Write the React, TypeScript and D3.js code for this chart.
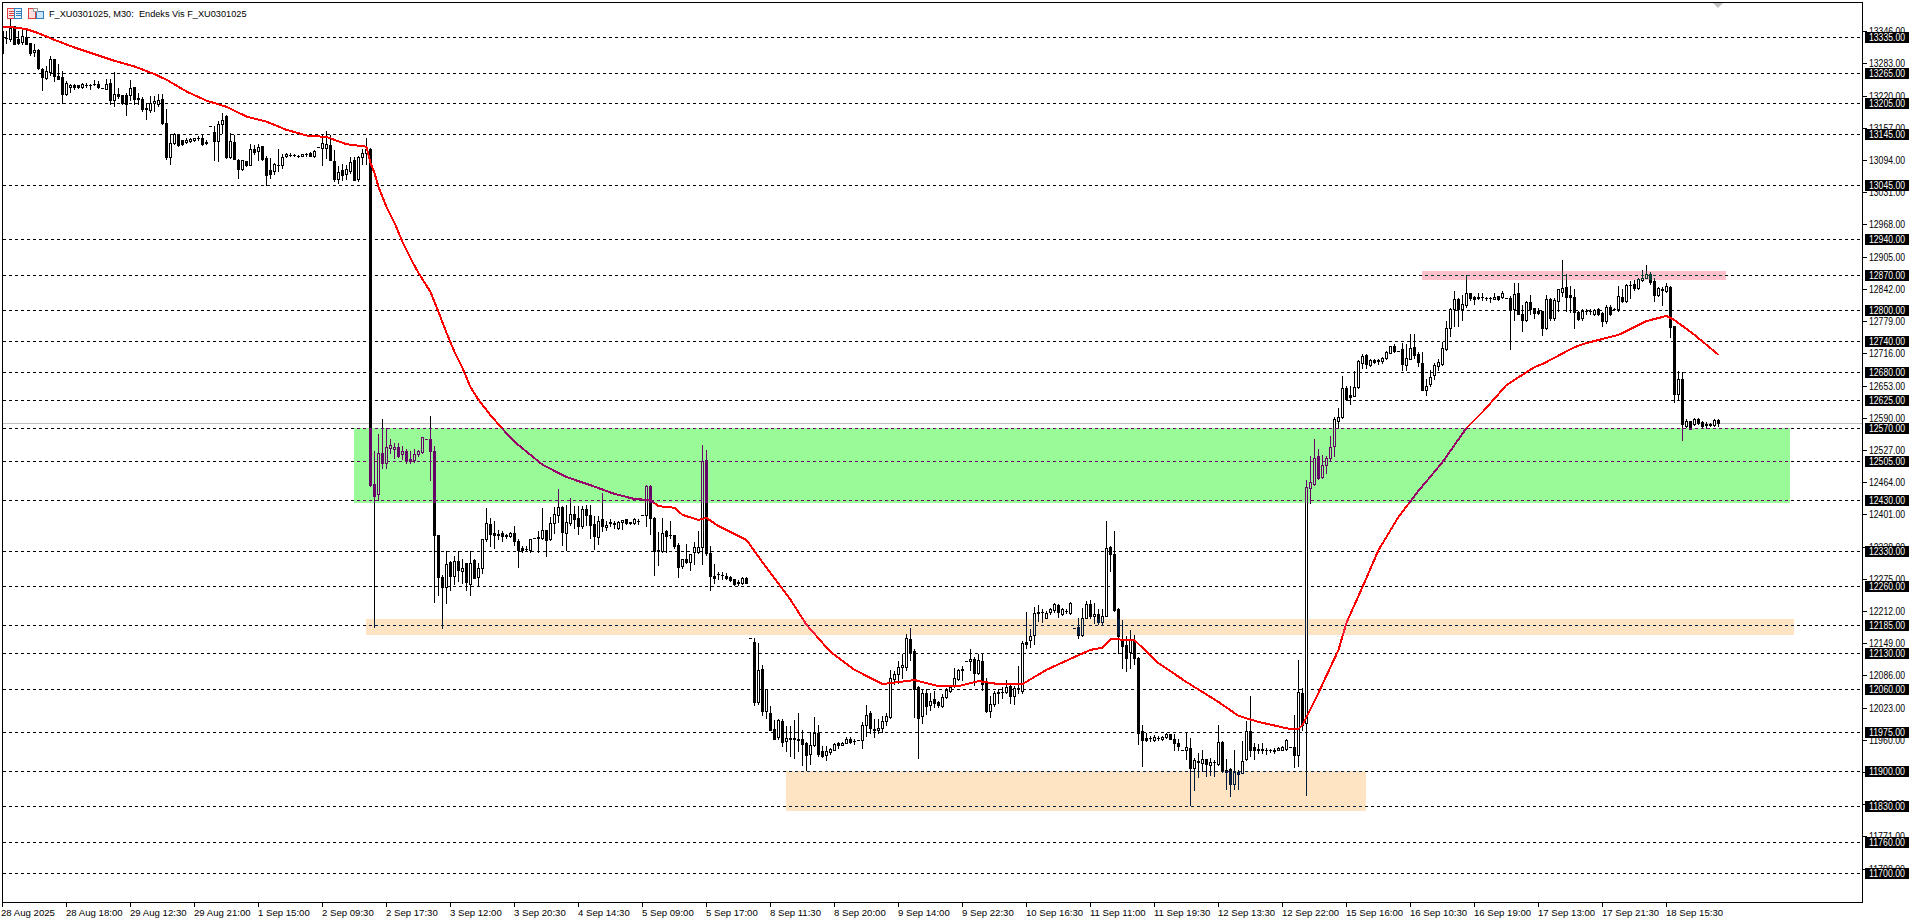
import * as d3 from 'd3';
import React from 'react';

type Bar = [number, number, number, number]; // open, high, low, close

const bars28to29Aug: Bar[] = [
  [13346,13353,13304,13304],[13333,13346,13323,13333],[13331,13370,13326,13353],[13356,13357,13320,13320],[13330,13346,13320,13323],[13325,13349,13320,13336],[13335,13351,13320,13320],[13322,13322,13300,13304],[13305,13320,13297,13310],[13310,13311,13272,13274],
  [13272,13274,13231,13257],[13254,13278,13252,13268],[13267,13298,13261,13291],[13291,13292,13248,13258],[13258,13281,13252,13252],[13257,13268,13205,13224],[13224,13248,13222,13245],[13237,13242,13227,13241],[13240,13242,13233,13237],[13240,13241,13235,13237],
  [13237,13244,13235,13242],[13241,13245,13237,13241],[13241,13242,13233,13241],[13242,13250,13240,13242],[13242,13248,13235,13237],[13235,13235,13235,13235],[13233,13252,13232,13242],[13244,13253,13203,13211],[13211,13266,13199,13224],[13224,13235,13216,13220],
  [13222,13222,13203,13205],[13222,13225,13183,13203],[13222,13250,13212,13235],[13236,13237,13203,13214],[13215,13225,13203,13214],[13214,13218,13190,13193],[13195,13206,13175,13193],[13192,13219,13188,13205],[13205,13220,13190,13209],[13203,13224,13199,13212],
];

const bars29Aug1Sep: Bar[] = [
  [13214,13224,13165,13167],[13167,13193,13096,13100],[13100,13144,13086,13128],[13128,13146,13126,13144],[13144,13144,13122,13124],[13133,13134,13124,13126],[13129,13137,13128,13134],[13132,13138,13130,13135],[13133,13138,13131,13137],[13137,13141,13134,13137],
  [13137,13142,13124,13126],[13129,13134,13125,13128],[13160,13160,13160,13160],[13148,13160,13094,13131],[13131,13170,13092,13165],[13165,13185,13147,13173],[13180,13183,13098,13100],[13100,13146,13098,13131],[13130,13142,13096,13096],[13095,13096,13059,13077],
  [13077,13094,13075,13094],[13093,13093,13083,13085],[13085,13126,13085,13115],[13115,13124,13105,13109],[13111,13126,13095,13120],[13121,13122,13095,13096],[13098,13102,13046,13064],[13075,13098,13059,13066],[13072,13089,13066,13087],[13085,13116,13072,13085],
  [13085,13105,13079,13100],[13102,13107,13100,13105],[13103,13107,13102,13103],[13103,13105,13102,13103],[13102,13104,13100,13102],[13102,13105,13102,13105],[13105,13107,13102,13105],[13107,13109,13102,13102],[13102,13113,13100,13111],[13120,13120,13120,13120],
  [13118,13144,13084,13128],[13118,13150,13098,13126],[13124,13142,13095,13095],[13093,13113,13053,13056],[13056,13083,13049,13071],[13074,13086,13055,13065],[13066,13084,13056,13076],[13072,13099,13069,13091],[13095,13099,13055,13055],[13056,13101,13053,13099],
  [13099,13115,13086,13108],[13108,13138,13086,13116],
];

const bars2to3Sep: Bar[] = [
  [13116,13118,12457,12458],[12461,12525,12181,12437],[12440,12559,12429,12521],[12521,12587,12492,12502],[12502,12570,12492,12533],[12531,12549,12521,12536],[12528,12541,12512,12533],[12533,12540,12513,12516],[12519,12534,12510,12525],[12525,12528,12502,12508],
  [12510,12525,12502,12506],[12507,12528,12503,12520],[12519,12527,12516,12524],[12523,12553,12521,12553],[12549,12549,12549,12549],[12549,12594,12468,12525],[12525,12534,12229,12360],[12360,12360,12244,12279],[12279,12283,12179,12259],[12259,12329,12228,12303],
  [12307,12309,12253,12280],[12280,12319,12264,12310],[12309,12329,12270,12292],[12291,12314,12266,12296],[12306,12306,12253,12268],[12264,12329,12243,12306],[12311,12313,12277,12277],[12279,12306,12261,12296],[12296,12353,12287,12353],[12352,12414,12349,12384],
  [12383,12394,12339,12362],[12365,12388,12336,12361],[12363,12371,12353,12360],[12364,12368,12349,12358],[12361,12362,12355,12358],[12358,12366,12357,12365],[12365,12379,12342,12349],[12349,12353,12298,12332],[12336,12340,12327,12332],[12334,12339,12331,12333],
  [12332,12353,12327,12353],[12355,12355,12355,12355],[12355,12368,12327,12356],[12355,12414,12353,12371],[12371,12371,12319,12351],[12352,12396,12351,12384],[12384,12416,12365,12401],[12399,12450,12386,12416],[12416,12417,12342,12366],[12365,12420,12332,12386],
];

const bars4to5Sep: Bar[] = [
  [12384,12433,12381,12402],[12402,12417,12375,12391],[12394,12417,12362,12378],[12378,12417,12375,12412],[12412,12420,12381,12399],[12400,12420,12355,12381],[12383,12397,12334,12358],[12357,12397,12344,12388],[12392,12443,12368,12378],[12377,12388,12370,12380],
  [12386,12391,12379,12385],[12384,12388,12375,12382],[12375,12388,12373,12386],[12386,12390,12373,12390],[12391,12392,12382,12384],[12386,12387,12383,12384],[12384,12394,12383,12392],[12388,12392,12383,12388],[12400,12400,12400,12400],[12400,12459,12379,12457],
  [12457,12459,12362,12394],[12394,12396,12283,12329],[12332,12366,12301,12329],[12329,12394,12327,12365],[12369,12371,12327,12358],[12360,12388,12355,12360],[12360,12360,12336,12340],[12342,12345,12278,12298],[12300,12314,12296,12313],[12313,12344,12305,12307],
  [12307,12324,12293,12324],[12327,12346,12303,12338],[12327,12368,12326,12338],[12338,12536,12303,12505],[12508,12527,12322,12326],[12326,12340,12253,12280],[12281,12303,12266,12277],[12284,12288,12274,12284],[12283,12288,12275,12283],[12281,12287,12274,12276],
  [12278,12280,12271,12272],[12274,12275,12262,12264],[12268,12272,12262,12267],[12266,12278,12265,12277],[12277,12279,12266,12266],
];

const bars8to9Sep: Bar[] = [
  [12160,12160,12160,12160],[12151,12160,12029,12034],[12034,12150,12031,12096],[12098,12107,12008,12016],[12016,12060,12002,12060],[12013,12027,11979,11979],[11982,11999,11962,11962],[11966,12000,11961,11998],[11997,12001,11948,11956],[11958,11988,11938,11964],
  [11963,11988,11929,11961],[11963,11999,11925,11961],[11962,12013,11938,11959],[11962,11979,11911,11952],[11953,11956,11902,11931],[11933,11975,11912,11949],[11949,12005,11948,11974],[11973,11989,11928,11933],[11938,11948,11927,11928],[11931,11948,11920,11938],
  [11937,11944,11933,11942],[11941,11954,11940,11952],[11953,11956,11944,11950],[11950,11956,11949,11954],[11954,11966,11953,11962],[11961,11966,11953,11956],[11957,11961,11952,11957],[11959,11959,11959,11959],[11959,11995,11944,11990],[11990,12029,11967,12009],
  [12012,12016,11974,11984],[11982,12000,11965,11980],[11979,12000,11974,11984],[11983,12006,11975,11997],[11997,12013,11990,12006],[12005,12096,12002,12081],[12079,12094,12070,12088],[12088,12114,12072,12103],[12103,12127,12081,12106],[12102,12168,12096,12160],
  [12158,12178,12116,12132],[12134,12137,12005,12060],[12064,12066,11924,12003],[12006,12060,11993,12052],[12052,12060,12010,12026],[12029,12051,12019,12036],[12040,12055,12025,12032],[12035,12036,12025,12029],[12026,12049,12025,12044],[12044,12062,12042,12057],
  [12055,12066,12053,12064],[12066,12100,12064,12081],[12079,12098,12077,12096],[12096,12104,12078,12098],[12115,12115,12115,12115],[12115,12137,12096,12119],[12119,12122,12068,12090],[12090,12127,12088,12117],[12115,12127,12057,12070],[12072,12081,12014,12016],
  [12016,12046,12004,12030],[12030,12055,12027,12052],[12052,12059,12032,12053],[12053,12064,12042,12053],[12053,12078,12051,12064],[12066,12072,12032,12046],[12046,12066,12031,12062],[12062,12104,12052,12062],[12055,12153,12052,12150],
];

const bars10to11Sep: Bar[] = [
  [12152,12210,12140,12148],[12155,12177,12142,12164],[12165,12220,12147,12208],[12210,12223,12192,12209],[12211,12215,12190,12211],[12199,12212,12198,12208],[12210,12218,12207,12215],[12214,12228,12210,12225],[12223,12225,12201,12210],[12207,12218,12205,12216],
  [12212,12216,12208,12212],[12208,12229,12207,12228],[12179,12179,12179,12179],[12180,12199,12160,12165],[12165,12218,12163,12199],[12199,12231,12199,12225],[12225,12234,12199,12203],[12202,12227,12188,12207],[12207,12216,12186,12190],[12190,12215,12186,12203],
  [12202,12389,12202,12336],[12338,12339,12290,12323],[12323,12368,12212,12214],[12215,12218,12129,12164],[12158,12195,12101,12143],[12145,12164,12094,12121],[12131,12174,12100,12156],[12156,12166,12109,12121],[12120,12122,11951,11974],[11977,11990,11909,11959],
  [11964,11974,11958,11960],[11963,11967,11958,11963],[11959,11969,11958,11966],[11963,11967,11959,11963],[11961,11967,11959,11965],[11966,11974,11964,11971],[11971,11971,11961,11962],[11962,11971,11941,11953],[11954,11961,11941,11948],[11941,11941,11941,11941],
  [11940,11974,11922,11946],[11944,11964,11832,11905],[11905,11925,11862,11920],[11918,11935,11888,11916],[11915,11940,11899,11923],[11922,11923,11889,11912],[11911,11925,11892,11916],[11916,11920,11889,11916],[11912,11990,11911,11956],[11956,11958,11897,11901],
  [11902,11922,11863,11897],[11903,11905,11850,11873],[11873,11941,11863,11897],[11897,11902,11863,11893],
];

const bars12to15Sep: Bar[] = [
  [11896,11957,11896,11918],[11922,11996,11920,11977],[11977,12045,11929,11941],[11946,11953,11923,11941],[11942,11951,11935,11940],[11942,11953,11935,11940],[11940,11944,11933,11940],[11940,11942,11937,11940],[11938,11944,11935,11941],[11941,11946,11940,11944],
  [11941,11948,11940,11946],[11942,11961,11941,11959],[11946,11946,11946,11946],[11946,12008,11907,11931],[11931,12117,11908,12054],[12052,12062,11979,11990],[11993,12469,11852,12454],[12453,12516,12424,12464],[12461,12549,12458,12512],[12516,12528,12471,12473],
  [12474,12518,12473,12498],[12498,12516,12481,12512],[12512,12555,12505,12533],[12534,12592,12516,12588],[12583,12609,12570,12592],[12592,12671,12590,12648],[12648,12652,12624,12627],[12634,12653,12616,12630],[12632,12681,12632,12650],[12650,12703,12648,12701],
  [12697,12714,12688,12710],[12713,12714,12688,12696],[12694,12704,12692,12703],[12703,12705,12698,12699],[12700,12704,12696,12703],[12701,12709,12697,12707],[12707,12720,12705,12718],[12717,12731,12716,12730],[12731,12735,12718,12720],[12720,12720,12720,12720],
];

const bars16to18Sep: Bar[] = [
  [12725,12736,12683,12696],[12694,12735,12683,12707],[12705,12754,12704,12727],[12729,12753,12707,12712],[12714,12718,12692,12699],[12697,12718,12644,12645],[12644,12665,12635,12653],[12655,12684,12653,12670],[12673,12697,12665,12694],[12691,12705,12683,12699],
  [12696,12738,12694,12727],[12725,12779,12722,12766],[12766,12805,12750,12803],[12802,12838,12769,12823],[12823,12825,12770,12802],[12802,12831,12782,12813],[12810,12870,12807,12834],[12833,12834,12820,12825],[12826,12829,12813,12823],[12826,12834,12823,12824],
  [12826,12834,12821,12826],[12825,12826,12821,12825],[12825,12826,12816,12825],[12823,12834,12823,12826],[12828,12828,12821,12823],[12826,12838,12825,12833],[12825,12825,12825,12825],[12825,12829,12725,12802],[12802,12854,12781,12832],[12834,12854,12792,12792],
  [12792,12811,12759,12782],[12782,12818,12779,12816],[12817,12831,12792,12802],[12805,12805,12785,12794],[12798,12805,12792,12795],[12798,12798,12751,12766],[12766,12831,12764,12823],[12823,12825,12782,12785],[12785,12825,12782,12820],[12818,12842,12798,12841],
  [12836,12899,12828,12844],[12846,12872,12798,12826],[12831,12847,12796,12826],[12826,12842,12765,12796],[12796,12798,12782,12783],[12785,12803,12782,12798],[12799,12802,12792,12798],[12798,12802,12792,12798],[12793,12803,12791,12800],[12802,12805,12790,12792],
  [12795,12796,12769,12780],[12780,12810,12776,12807],[12807,12810,12790,12792],[12802,12805,12800,12802],[12802,12847,12798,12828],[12826,12842,12817,12819],[12819,12851,12817,12849],[12850,12857,12825,12850],[12851,12860,12840,12844],[12844,12864,12841,12862],
  [12860,12879,12857,12864],[12864,12888,12864,12872],[12872,12875,12851,12855],[12857,12864,12818,12831],[12831,12846,12828,12844],[12840,12846,12810,12842],[12838,12854,12836,12847],[12846,12847,12748,12768],[12770,12770,12620,12637],[12637,12681,12626,12666],
  [12666,12680,12547,12577],[12573,12588,12572,12583],[12583,12583,12567,12568],[12577,12590,12575,12588],[12587,12589,12577,12579],[12581,12583,12570,12573],[12578,12581,12570,12575],[12578,12580,12574,12575],[12575,12587,12573,12585],[12585,12588,12573,12579],
];

// moving average, read at the bends of the line: [bar index, price]
const maPoints: [number, number][] = [
  [0,13356],[3,13354],[6,13351],[9,13343],[13,13330],[18,13315],[23,13302],[28,13289],[33,13278],[38,13263],[41,13252],[46,13229],[51,13211],[56,13199],[61,13180],[66,13170],[71,13154],[76,13143],[81,13140],[86,13126],[91,13121],
  [92,13089],[93,13070],[94,13042],[95,13023],[96,13003],[98,12972],[100,12935],[102,12903],[104,12874],[107,12837],[109,12798],[111,12757],[113,12720],[115,12688],[117,12651],[119,12626],[122,12596],[125,12569],[128,12544],[135,12499],[141,12475],[147,12459],[153,12442],[158,12432],[162,12430],[164,12418],[168,12415],[170,12401],[174,12391],[176,12395],[179,12379],[186,12352],[189,12319],
  [197,12235],[201,12186],[207,12133],[213,12098],[220,12070],[228,12078],[234,12066],[239,12066],[244,12076],[249,12070],[255,12070],[261,12098],[268,12123],[272,12137],[275,12141],[277,12158],[283,12156],[289,12111],[296,12074],[304,12035],[309,12008],[314,11996],[322,11982],[324,11982],[325,11990],
  [329,12053],[334,12137],[336,12190],[340,12260],[344,12332],[349,12397],[354,12448],[360,12504],[366,12571],[370,12602],[376,12655],[383,12690],[385,12696],[393,12729],[396,12737],[404,12753],[411,12780],[416,12790],[418,12782],[423,12753],[429,12714],
];

const priceTicks = [13346,13283,13220,13157,13094,13031,12968,12905,12842,12779,12716,12653,12590,12527,12464,12401,12338,12275,12212,12149,12086,12023,11960,11897,11834,11771,11708];
const levels = [13335,13265,13205,13145,13045,12940,12870,12800,12740,12680,12625,12570,12505,12430,12330,12260,12185,12130,12060,11975,11900,11830,11760,11700];
const timeLabels = ['28 Aug 2025','28 Aug 18:00','29 Aug 12:30','29 Aug 21:00','1 Sep 15:00','2 Sep 09:30','2 Sep 17:30','3 Sep 12:00','3 Sep 20:30','4 Sep 14:30','5 Sep 09:00','5 Sep 17:00','8 Sep 11:30','8 Sep 20:00','9 Sep 14:00','9 Sep 22:30','10 Sep 16:30','11 Sep 11:00','11 Sep 19:30','12 Sep 13:30','12 Sep 22:00','15 Sep 16:00','16 Sep 10:30','16 Sep 19:00','17 Sep 13:00','17 Sep 21:30','18 Sep 15:30'];

// zones: first bar, last bar, upper price, lower price, colour seen on white
const zones: [number, number, number, number, string][] = [
  [87.75, 446.75, 12570, 12425, '#98FB98'],
  [90.75, 447.75, 12197, 12166, '#FFE4C4'],
  [195.75, 340.75, 11900, 11822, '#FFE4C4'],
  [354.75, 430.75, 12878, 12860, '#FFC0CB'],
];

const bars = [...bars28to29Aug, ...bars29Aug1Sep, ...bars2to3Sep, ...bars4to5Sep, ...bars8to9Sep, ...bars10to11Sep, ...bars12to15Sep, ...bars16to18Sep];

const width = 1920;
const height = 923;
const plotLeft = 2;
const plotTop = 2;
const plotRight = 1862;
const plotBottom = 902;
const font = '"Liberation Sans", sans-serif';

// one bar every 4px, 1px wick in the middle of a 3px body
const x = d3.scaleLinear().domain([0, 100]).range([2.5, 402.5]);
const y = d3.scaleLinear().domain([13335, 11700]).range([37.3, 873.3]);
const py = (v: number) => Math.round(y(v) - 0.5) + 0.5;

// the terminal draws zones by inverting, so what was black shows up dark purple on green
const invert = (c: string) => {
  const rgb = d3.rgb(c);
  return d3.rgb(255 - rgb.r, 255 - rgb.g, 255 - rgb.b).formatHex();
};

const maLine = d3
  .line<[number, number]>()
  .x((d) => x(d[0]))
  .y((d) => y(d[1]));

const Candle = ({ bar, i }: { bar: Bar; i: number }) => {
  const [open, high, low, close] = bar;
  const cx = x(i);
  const top = py(Math.max(open, close));
  const bottom = py(Math.min(open, close));
  const up = close > open;
  return (
    <g>
      <line x1={cx} x2={cx} y1={py(high) - 0.5} y2={py(low) + 0.5} stroke="#000" />
      {top === bottom ? (
        <line x1={cx - 1.5} x2={cx + 1.5} y1={top} y2={top} stroke="#000" />
      ) : (
        <rect x={cx - 1} y={top} width={2} height={bottom - top} fill={up ? '#fff' : '#000'} stroke="#000" />
      )}
    </g>
  );
};

const PriceText = ({ v, fill }: { v: number; fill: string }) => (
  <text x={1869} y={y(v) + 3.5} fontSize={10} fill={fill} textLength={36} lengthAdjust="spacingAndGlyphs">
    {d3.format('.2f')(v)}
  </text>
);

const App = () => {
  const last = bars[bars.length - 1];
  return (
    <svg width={width} height={height} style={{ position: 'absolute', left: 0, top: 0, display: 'block' }} fontFamily={font}>
      <rect width={width} height={height} fill="#fff" />
      <defs>
        <clipPath id="plot">
          <rect x={plotLeft + 1} y={plotTop + 1} width={plotRight - plotLeft - 1} height={plotBottom - plotTop - 1} />
        </clipPath>
      </defs>

      <g clipPath="url(#plot)" shapeRendering="crispEdges">
        {/* the group is its own blend layer, so it needs its own white under the zones */}
        <rect width={width} height={height} fill="#fff" />
        {levels.map((v) => (
          <line key={v} x1={plotLeft + 1} x2={plotRight} y1={py(v)} y2={py(v)} stroke="#000" strokeDasharray="3 3" />
        ))}
        <line x1={plotLeft} x2={plotRight} y1={py(last[3])} y2={py(last[3])} stroke="#C0C0C0" />
        {bars.map((b, i) => (
          <Candle key={i} bar={b} i={i} />
        ))}
        <path d={maLine(maPoints) ?? ''} fill="none" stroke="#FF0000" strokeWidth={2} />
        {zones.map(([a, b, upper, lower, color]) => (
          <rect
            key={a}
            x={x(a)}
            y={y(upper)}
            width={x(b) - x(a)}
            height={y(lower) - y(upper)}
            fill={invert(color)}
            style={{ mixBlendMode: 'difference' }}
          />
        ))}
      </g>

      <g shapeRendering="crispEdges">
        <rect x={plotLeft + 0.5} y={plotTop + 0.5} width={plotRight - plotLeft} height={plotBottom - plotTop} fill="none" stroke="#000" />
        {priceTicks.map((v) => (
          <line key={v} x1={plotRight} x2={plotRight + 5} y1={py(v)} y2={py(v)} stroke="#000" />
        ))}
        {timeLabels.map((t, i) => (
          <line key={t} x1={x(i * 16)} x2={x(i * 16)} y1={plotBottom} y2={plotBottom + 5} stroke="#000" />
        ))}
      </g>

      {priceTicks.map((v) => (
        <PriceText key={v} v={v} fill="#000" />
      ))}
      <g fontSize={9.6} fill="#000">
        {timeLabels.map((t, i) => (
          <text key={t} x={x(i * 16) - 0.5 - (i === 0 ? 1 : 0)} y={915.5}>
            {t}
          </text>
        ))}
      </g>

      {levels.map((v) => (
        <g key={v}>
          <rect x={1865} y={y(v) - 5.5} width={44} height={11} fill="#000" shapeRendering="crispEdges" />
          <PriceText v={v} fill="#fff" />
        </g>
      ))}

      <text x={49} y={17} fontSize={9.2} fill="#000" style={{ whiteSpace: 'pre' }}>
        {'F_XU0301025, M30:  Endeks Vis F_XU0301025'}
      </text>

      {/* window icons */}
      <g shapeRendering="crispEdges" fill="none">
        <rect x={7.5} y={8.5} width={7} height={10} stroke="#E04040" fill="#FCE8E8" />
        <rect x={14.5} y={8.5} width={7} height={10} stroke="#2F7FC0" fill="#E8F2FC" />
        {[11, 13, 15].map((l) => (
          <g key={l}>
            <line x1={9} x2={14} y1={l} y2={l} stroke="#E04040" />
            <line x1={16} x2={21} y1={l} y2={l} stroke="#2F7FC0" />
          </g>
        ))}
        <path d="M28.5 8.5H35.5V18.5H28.5Z" stroke="#E04040" fill="#FCE0E0" />
        <path d="M36.5 11.5H43.5V18.5H36.5Z" stroke="#2F7FC0" fill="#CFE6FA" />
        <rect x={33.5} y={8.5} width={4} height={3} stroke="#9A9A9A" fill="#fff" />
      </g>

      {/* shift marker */}
      <path d="M1713 3H1723L1718 8Z" fill="#C0C0C0" />
    </svg>
  );
};

export default App;
